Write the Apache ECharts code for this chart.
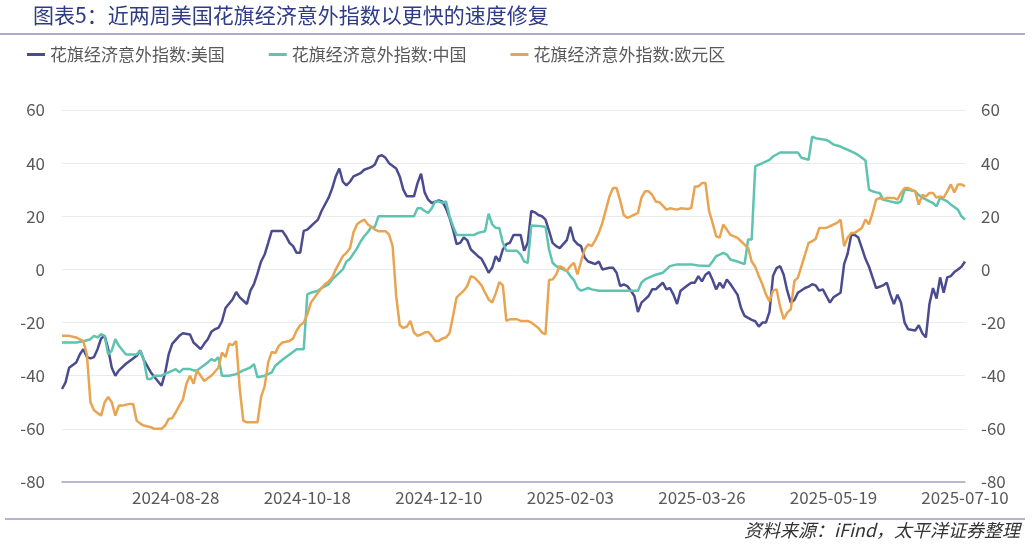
<!DOCTYPE html>
<html><head><meta charset="utf-8">
<script src="https://cdn.jsdelivr.net/npm/echarts@6/dist/echarts.min.js"></script>
<style>html,body{margin:0;padding:0;background:#fff}#c{width:1032px;height:545px}</style>
</head><body><div id="c"></div><script>
// ---- data ----
const startDate = '2024-07-15';
const endDate = '2025-07-10';
const holidays = ['2024-12-25', '2025-01-01', '2025-04-18', '2025-05-26'];
const tickLabels = ['2024-08-28', '2024-10-18', '2024-12-10', '2025-02-03', '2025-03-26', '2025-05-19', '2025-07-10'];
const seriesNames = ['花旗经济意外指数:美国', '花旗经济意外指数:中国', '花旗经济意外指数:欧元区'];
// [trading-day index, value]
const usData = [[0,-45],[1,-42.5],[2,-37],[4,-35],[5,-32],[6,-30],[7,-33],[8,-33.5],[9,-33],[10,-30],[11,-26],[12,-25],[13,-30],[14,-37],[15,-40],[16,-38],[18,-35.5],[20,-33.5],[21,-32.5],[22,-30.5],[23,-34],[25,-38.75],[26,-40.5],[28,-43.75],[29,-39],[30,-32],[31,-28],[33,-25],[34,-24],[36,-24.5],[37,-27.5],[39,-30],[40,-28],[41,-26.25],[42,-23.5],[43,-22.5],[44,-22],[45,-19.5],[46,-14.5],[48,-11.25],[49,-8.5],[50,-10.5],[52,-13],[53,-8],[54,-5.5],[55,-1.5],[56,3],[57,5.6],[58,10],[59,14.5],[62,14.5],[63,12.5],[64,10],[65,8.75],[66,6.25],[67,6.25],[68,14.5],[69,15],[70,16.25],[71,17.5],[72,18.75],[73,22],[75,27],[76,30.5],[77,35],[78,38],[79,33],[80,31.6],[81,33],[82,35],[84,36.25],[85,37.5],[87,38.5],[88,39.5],[89,42.5],[90,43],[91,42],[92,40],[94,38],[95,35],[96,30],[97,27.5],[99,27.5],[100,32.5],[101,36],[102,29],[103,26.25],[104,25],[106,26],[107,25.5],[108,23],[109,19.5],[110,15],[111,9.5],[112,10],[113,12],[114,11],[115,7.5],[117,5],[118,4],[119,1.5],[120,-1.25],[121,0.6],[122,5],[123,3],[124,7.5],[125,9.5],[126,10],[127,13],[128,13],[129,13],[130,7],[131,10],[132,22],[133,21.5],[134,20.5],[135,20],[136,18.75],[137,14.5],[138,10],[139,8.75],[140,8],[141,9.5],[142,11],[143,16],[144,11],[145,9.5],[146,8.75],[147,4.5],[148,3],[149,2.5],[150,2],[151,3],[152,0],[154,0.6],[155,0.6],[156,-1.25],[157,-6.25],[158,-5.6],[159,-6.25],[160,-8],[161,-10],[162,-16],[163,-12.5],[164,-11.25],[165,-10],[166,-7.5],[167,-7.5],[168,-6.25],[169,-5],[170,-7.5],[171,-7],[172,-9.5],[173,-13],[174,-8],[176,-6],[177,-5],[178,-5],[179,-2.5],[180,-4.5],[181,-2],[182,-1],[183,-4],[184,-7.5],[185,-5],[186,-7],[187,-3.75],[188,-5.5],[189,-7.5],[190,-9.5],[191,-14.5],[192,-17.5],[194,-19],[195,-19.5],[196,-21.5],[197,-20],[198,-20],[199,-16],[200,-2.5],[201,0.5],[202,1.25],[203,-2],[204,-8],[205,-12.5],[206,-11.5],[207,-8.75],[209,-7],[210,-6.5],[211,-5.6],[212,-6],[213,-8],[214,-7.5],[215,-10],[216,-12.5],[217,-10.5],[219,-8.75],[220,2],[221,6],[222,13],[223,13],[224,12],[225,8],[226,4],[227,1],[228,-3],[229,-7],[231,-6],[232,-5],[233,-9.5],[234,-13],[235,-9.5],[236,-12.5],[237,-20],[238,-22.5],[240,-23],[241,-21],[242,-24],[243,-25.6],[244,-13],[245,-7],[246,-11],[247,-3],[248,-8.75],[249,-3],[250,-2.5],[251,-1],[252,0],[253,1],[254,3]];
const cnData = [[0,-27.5],[4,-27.5],[6,-27],[8,-26.25],[9,-25],[10,-25.6],[11,-24.4],[12,-25],[13,-32],[14,-30.6],[15,-26.25],[16,-28.75],[18,-32],[21,-32],[22,-30.6],[23,-34],[24,-41.25],[25,-41.25],[26,-40],[28,-40],[30,-38.75],[32,-37.5],[33,-38.75],[34,-37.5],[36,-37.5],[37,-38],[38,-38],[39,-37],[41,-35],[42,-33.75],[43,-34.4],[44,-33],[45,-40],[47,-40],[49,-39.4],[51,-38],[53,-36.9],[54,-35.6],[55,-40.6],[57,-40],[58,-39.4],[59,-38.75],[60,-36.25],[62,-34],[64,-32],[66,-30],[67,-30],[68,-30],[69,-9.4],[70,-8.75],[72,-8],[73,-7],[75,-5.6],[76,-3.75],[77,-2.5],[79,0],[80,3],[81,4],[82,6],[83,8],[84,10.5],[85,12.5],[86,14],[87,16],[88,16],[89,20],[94,20],[99,20],[100,23],[101,23],[102,22],[103,21.25],[104,23],[105,25.6],[106,25.6],[107,25],[108,25.6],[109,20],[110,16.25],[111,13],[116,13],[117,13.75],[119,14.4],[120,21],[121,17],[122,15.6],[123,15.6],[124,10],[125,7],[128,7],[129,5.6],[130,3],[131,2.5],[132,16.5],[135,16.25],[136,16],[137,7.5],[138,2.5],[139,1.25],[140,0.6],[142,-0.6],[143,-2.5],[144,-4],[145,-7],[146,-8],[147,-7.5],[148,-7],[149,-7.5],[151,-8],[162,-8],[163,-5],[164,-3.75],[166,-2.5],[167,-2],[169,-1.25],[170,0],[171,1.25],[173,1.9],[177,1.9],[179,1.5],[182,1.25],[183,3],[184,5],[185,5.6],[186,6.25],[187,5.6],[188,3.75],[190,3],[192,2],[193,11.25],[194,11.25],[195,38.75],[196,39.4],[197,40],[199,41.25],[200,42.5],[202,44],[205,44],[207,44],[208,42],[210,41.25],[211,50],[212,49.4],[215,48.75],[216,48],[217,47],[219,46.25],[220,45.6],[222,44.4],[223,43.75],[224,43],[225,42],[226,41],[227,30],[228,29.4],[229,29],[230,28.75],[231,26.25],[233,25.6],[235,25],[236,25.6],[237,30],[238,30],[240,29.4],[241,28],[242,27],[244,25.6],[245,25],[246,23.75],[247,27],[248,26.25],[249,25.6],[250,24.4],[252,22.5],[253,20],[254,18.75]];
const euData = [[0,-25],[2,-25],[4,-25.6],[6,-27],[7,-32],[8,-50],[9,-53],[10,-54],[11,-55],[12,-50],[13,-48],[14,-50],[15,-55],[16,-51.25],[17,-51.25],[19,-50.6],[20,-50.6],[21,-56.9],[22,-58],[23,-58.75],[25,-59.4],[26,-60],[28,-60],[29,-58.75],[30,-56.25],[31,-56],[32,-53.75],[33,-51.25],[34,-49],[35,-43],[36,-40],[37,-43],[38,-38],[39,-40],[40,-42],[41,-41],[42,-40],[44,-37],[45,-31.25],[46,-33],[47,-28],[48,-28.5],[49,-27],[50,-45],[51,-57],[52,-57.5],[54,-57.5],[55,-57.5],[56,-48],[57,-44],[58,-35],[59,-31],[60,-31.5],[61,-28.75],[62,-27.5],[64,-26.9],[65,-26],[66,-23],[67,-21],[68,-20],[69,-17],[70,-12.5],[72,-8.75],[73,-7],[74,-5.5],[75,-4.5],[76,-3],[77,0],[78,2.5],[79,5],[80,6.25],[81,8],[82,14],[83,17],[84,18],[85,18.75],[86,17],[88,15],[89,14.4],[91,14.4],[92,13.1],[93,8.75],[94,-10],[95,-21],[96,-22],[97,-21.5],[98,-19.4],[99,-23.75],[100,-25],[101,-24.5],[102,-23.75],[103,-23.5],[104,-25],[105,-26.9],[106,-26.9],[107,-26],[108,-25.6],[109,-24],[110,-17.5],[111,-10.5],[113,-8],[114,-6.25],[115,-2.5],[116,-3.1],[117,-4.4],[118,-6],[119,-8.75],[120,-11.25],[121,-12.5],[122,-9],[123,-4.75],[124,-6],[125,-19.4],[126,-18.75],[128,-18.75],[129,-19.4],[131,-19.4],[132,-20],[134,-22],[135,-23.75],[136,-24.4],[137,-4],[138,-3.75],[139,-1.9],[140,1.25],[141,0.6],[142,-0.6],[143,1.25],[144,2.5],[145,-1.9],[146,3],[147,7.5],[148,9.4],[149,8.75],[150,11],[151,13.75],[152,17.5],[153,22.5],[154,27.5],[155,30.6],[156,30.6],[157,26],[158,20.5],[159,19.4],[160,20],[162,21.25],[163,27],[164,29.4],[165,29.4],[166,28.1],[167,25.6],[168,25.3],[169,24],[170,22.5],[171,23],[173,22.5],[174,23],[176,22.75],[177,23.1],[178,31.25],[179,31.25],[180,32.5],[181,32.5],[182,22],[183,17.5],[184,12.5],[185,12],[186,16.9],[187,15],[188,13],[190,11.9],[191,10.6],[193,8],[194,3],[195,1],[196,-2.5],[197,-5.6],[198,-9.4],[199,-12],[200,-8],[201,-7.5],[202,-14],[203,-18.75],[204,-16.25],[205,-15],[206,-4.4],[207,-3.1],[208,1.25],[209,5.6],[210,10],[211,10.6],[212,11.5],[213,15.6],[215,15.6],[216,16.25],[218,17.5],[219,18.75],[220,8.75],[221,12],[222,13.75],[223,13.75],[225,15.6],[226,18.75],[227,17],[228,21.25],[229,26.25],[230,26.9],[231,26.25],[232,26.9],[234,26.9],[235,26.25],[236,28.75],[237,30.6],[238,30.6],[240,29.4],[241,24.4],[242,28],[243,27.5],[244,28.75],[245,28.75],[246,27],[247,27.5],[248,27],[249,29.4],[250,32],[251,29],[252,32],[253,32],[254,31.25]];
const yTicks = { min: -80, max: 60, interval: 20 };

// ---- trading-day categories ----
function buildDates(a, b, skip) {
  const out = [];
  const d = new Date(a + 'T00:00:00Z');
  const end = new Date(b + 'T00:00:00Z');
  while (d <= end) {
    const wd = d.getUTCDay();
    const s = d.toISOString().slice(0, 10);
    if (wd !== 0 && wd !== 6 && skip.indexOf(s) < 0) out.push(s);
    d.setUTCDate(d.getUTCDate() + 1);
  }
  return out;
}
const categories = buildDates(startDate, endDate, holidays);

const FONT = '"Noto Sans CJK SC", "Noto Sans", sans-serif';
const TXT = '#595959';
const chart = echarts.init(document.getElementById('c'), null, { renderer: 'canvas' });
const colors = ['#4b4b8f', '#5ec3b0', '#e9a451'];
const datasets = [usData, cnData, euData];

chart.setOption({
  animation: false,
  backgroundColor: '#ffffff',
  textStyle: { fontFamily: FONT },
  color: colors,
  graphic: [
    { type: 'text', left: 33, top: 5, style: { text: '图表5：近两周美国花旗经济意外指数以更快的速度修复', fill: '#2e3b86', font: '21px ' + FONT } },
    { type: 'line', shape: { x1: 0, y1: 34, x2: 1025, y2: 34 }, style: { stroke: '#8e91b9', lineWidth: 1.5 } },
    { type: 'line', shape: { x1: 5, y1: 519, x2: 1025, y2: 519 }, style: { stroke: '#9a9dbf', lineWidth: 1.5 } },
    { type: 'text', right: 12, top: 521, style: { text: '资料来源：iFind，太平洋证券整理', fill: '#333333', font: 'italic 18px ' + FONT } }
  ],
  legend: {
    left: 22, top: 41,
    icon: 'rect', itemWidth: 18, itemHeight: 3, itemGap: 44,
    textStyle: { color: TXT, fontSize: 17, fontFamily: FONT },
    data: seriesNames
  },
  grid: { left: 62, right: 67, top: 110, bottom: 63 },
  xAxis: {
    type: 'category',
    boundaryGap: false,
    data: categories,
    axisLine: { onZero: false, lineStyle: { color: '#a3a6c3', width: 1.5 } },
    axisTick: { show: false },
    axisLabel: {
      color: TXT, fontSize: 17, margin: 7, fontFamily: FONT,
      interval: function (i, v) { return tickLabels.indexOf(v) >= 0; }
    },
    splitLine: { show: false }
  },
  yAxis: [
    {
      type: 'value', min: yTicks.min, max: yTicks.max, interval: yTicks.interval,
      axisLine: { show: false }, axisTick: { show: false },
      axisLabel: { color: TXT, fontSize: 17, margin: 17, fontFamily: FONT },
      splitLine: { lineStyle: { color: '#ebebeb', width: 1 } }
    },
    {
      type: 'value', min: yTicks.min, max: yTicks.max, interval: yTicks.interval, position: 'right',
      axisLine: { show: false }, axisTick: { show: false },
      axisLabel: { color: TXT, fontSize: 17, margin: 16, fontFamily: FONT },
      splitLine: { show: false }
    }
  ],
  series: seriesNames.map(function (n, i) {
    return {
      name: n, type: 'line', yAxisIndex: 0, data: datasets[i],
      showSymbol: false, symbol: 'none',
      lineStyle: { width: 2.5, color: colors[i] }
    };
  })
});
</script></body></html>
